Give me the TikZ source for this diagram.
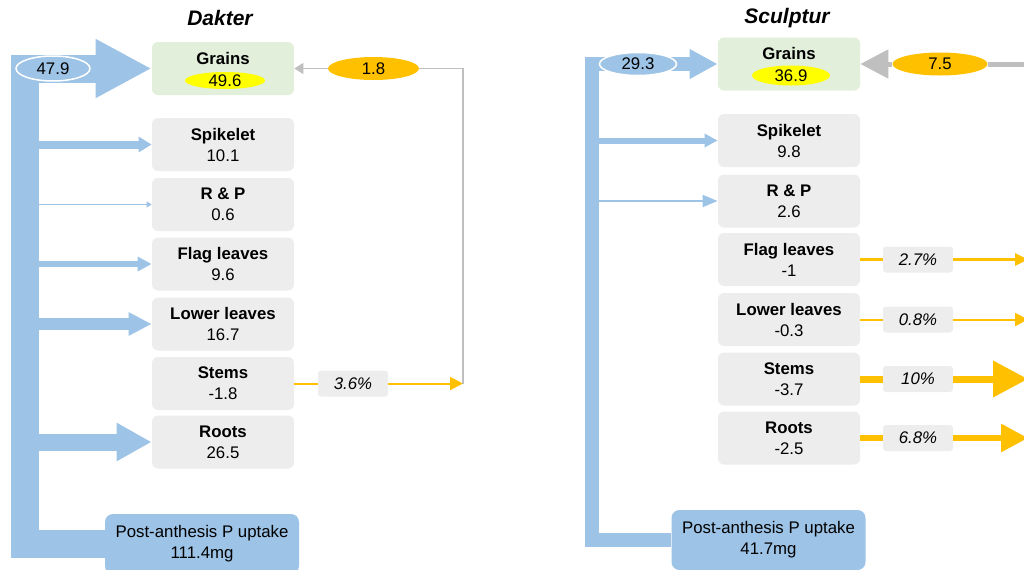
\documentclass[tikz,border=0pt]{standalone}
\usepackage{fontspec}
\setmainfont{Liberation Sans}
\usepackage{tikz}
\usetikzlibrary{arrows.meta, shapes.geometric, calc}
\definecolor{pblue}{HTML}{9DC3E6}
\definecolor{boxgray}{HTML}{EDEDED}
\definecolor{grngreen}{HTML}{E2EFDA}
\definecolor{porange}{HTML}{FFC000}
\definecolor{pyellow}{HTML}{FFFF00}
\definecolor{lgray}{HTML}{BFBFBF}
\newcommand{\bodyfs}{\fontsize{8.4}{10.5}\selectfont}
\newcommand{\titlefs}{\fontsize{10.5}{12}\selectfont}

\begin{document}
\begin{tikzpicture}[x=0.5pt, y=-0.5pt,
  part/.style={fill=boxgray, rounded corners=3pt, minimum width=71pt, minimum height=26.5pt, inner sep=0pt, align=center, font=\bodyfs},
  grn/.style={part, fill=grngreen},
  upt/.style={fill=pblue, rounded corners=4pt, minimum width=97pt, minimum height=30pt, inner sep=0pt, align=center, font=\bodyfs},
  tag/.style={ellipse, inner sep=0pt, minimum height=11.5pt, font=\bodyfs},
  pct/.style={fill=boxgray, rounded corners=1.5pt, minimum width=35pt, minimum height=13pt, inner sep=0pt, font=\bodyfs\itshape},
  ttl/.style={font=\titlefs\bfseries\itshape},
  upflow/.style n args={3}{draw=pblue, line width=#1, -{Triangle[length=#2, width=#3]}},
  remob/.style n args={3}{draw=porange, line width=#1, -{Triangle[length=#2, width=#3]}},
  remline/.style={draw=porange, line width=#1},
]
  \useasboundingbox (0,0) rectangle (1024,569);
  \clip (0,0) rectangle (1024,569);

  % Dakter
  \node[ttl] (h1) at (220,18) {Dakter};
  \node[grn]  (g1)  at (223,68.5)  {\textbf{Grains}\\\phantom{49.6}};
  \node[part] (s1)  at (223,144.5) {\textbf{Spikelet}\\10.1};
  \node[part] (rp1) at (223,204.5) {\textbf{R \& P}\\0.6};
  \node[part] (f1)  at (223,264)   {\textbf{Flag leaves}\\9.6};
  \node[part] (l1)  at (223,324)   {\textbf{Lower leaves}\\16.7};
  \node[part] (st1) at (223,383.5) {\textbf{Stems}\\-1.8};
  \node[part] (ro1) at (223,442)   {\textbf{Roots}\\26.5};
  \node[upt]  (u1)  at (202,544)   {Post-anthesis P uptake\\111.4mg};
  \node[tag, fill=pyellow, minimum width=40pt, minimum height=8.5pt] (y1) at (225,80.5) {49.6};
  \coordinate (t1) at (25,68.5);
  \coordinate (c1) at (463,383.5);

  \draw[upflow={14pt}{28pt}{27.5pt}] (u1.west) -- (t1 |- u1.west) -- (t1) -- (g1);
  \draw[upflow={4pt}{6.5pt}{7.5pt}] (t1 |- s1) -- (s1);
  \draw[upflow={0.5pt}{2.5pt}{3pt}] (t1 |- rp1) -- (rp1);
  \draw[upflow={3pt}{7pt}{7pt}] (t1 |- f1) -- (f1);
  \draw[upflow={6pt}{11.5pt}{11pt}] (t1 |- l1) -- (l1);
  \draw[upflow={8.5pt}{17.5pt}{18pt}] (t1 |- ro1) -- (ro1);
  \node[tag, fill=pblue, draw=white, line width=0.75pt, minimum width=37pt, minimum height=12.5pt] (v1) at (53,68.5) {47.9};

  \node[pct] (q1) at (353,383.5) {3.6\%};
  \node[tag, fill=porange, minimum width=45.5pt] (e1) at (373.5,68.5) {1.8};
  \draw[remline=1pt] (st1) -- (q1);
  \draw[remob={1pt}{6.5pt}{6.5pt}] (q1) -- (c1);
  \draw[lgray, line width=0.75pt] (c1) |- (e1);
  \draw[lgray, line width=0.75pt, -{Triangle[length=4.5pt, width=5.5pt]}] (e1) -- (g1);

  % Sculptur
  \node[ttl] (h2) at (787,18) {Sculptur};
  \node[grn]  (g2)  at (789,64)    {\textbf{Grains}\\\phantom{36.9}};
  \node[part] (s2)  at (789,140.5) {\textbf{Spikelet}\\9.8};
  \node[part] (rp2) at (789,201)   {\textbf{R \& P}\\2.6};
  \node[part] (f2)  at (789,259.5) {\textbf{Flag leaves}\\-1};
  \node[part] (l2)  at (789,319.5) {\textbf{Lower leaves}\\-0.3};
  \node[part] (st2) at (789,379)   {\textbf{Stems}\\-3.7};
  \node[part] (ro2) at (789,438)   {\textbf{Roots}\\-2.5};
  \node[upt]  (u2)  at (768.5,540) {Post-anthesis P uptake\\41.7mg};
  \node[tag, fill=pyellow, minimum width=39pt, minimum height=10pt] (y2) at (791,75.5) {36.9};
  \coordinate (t2) at (592,64);
  \coordinate (c2) at (1028,64);

  \draw[upflow={7pt}{14pt}{14pt}] (u2.west) -- (t2 |- u2.west) -- (t2) -- (g2);
  \draw[upflow={3pt}{6.5pt}{6.5pt}] (t2 |- s2) -- (s2);
  \draw[upflow={1pt}{7.5pt}{6pt}] (t2 |- rp2) -- (rp2);
  \node[tag, fill=pblue, draw=white, line width=0.75pt, minimum width=38.5pt] (v2) at (638,64) {29.3};

  \node[pct] (qf2) at (918,259.5) {2.7\%};
  \node[pct] (ql2) at (918,319.5) {0.8\%};
  \node[pct] (qs2) at (918,379)   {10\%};
  \node[pct] (qr2) at (918,438)   {6.8\%};
  \draw[remline=1.5pt] (f2) -- (qf2);
  \draw[remob={1.5pt}{6.5pt}{6pt}] (qf2) -- (qf2 -| c2);
  \draw[remline=1pt] (l2) -- (ql2);
  \draw[remob={1pt}{6.5pt}{6.5pt}] (ql2) -- (ql2 -| c2);
  \draw[remline=3.5pt] (st2) -- (qs2);
  \draw[remob={3.5pt}{17.5pt}{17.5pt}] (qs2) -- (qs2 -| c2);
  \draw[remline=3pt] (ro2) -- (qr2);
  \draw[remob={3pt}{13.5pt}{13.5pt}] (qr2) -- (qr2 -| c2);

  \node[tag, fill=porange, minimum width=47.5pt] (e2) at (940,64) {7.5};
  \draw[lgray, line width=2.5pt] (c2) -- (e2);
  \draw[lgray, line width=2.5pt, -{Triangle[length=14pt, width=14pt]}] (e2) -- (g2);
\end{tikzpicture}
\end{document}
